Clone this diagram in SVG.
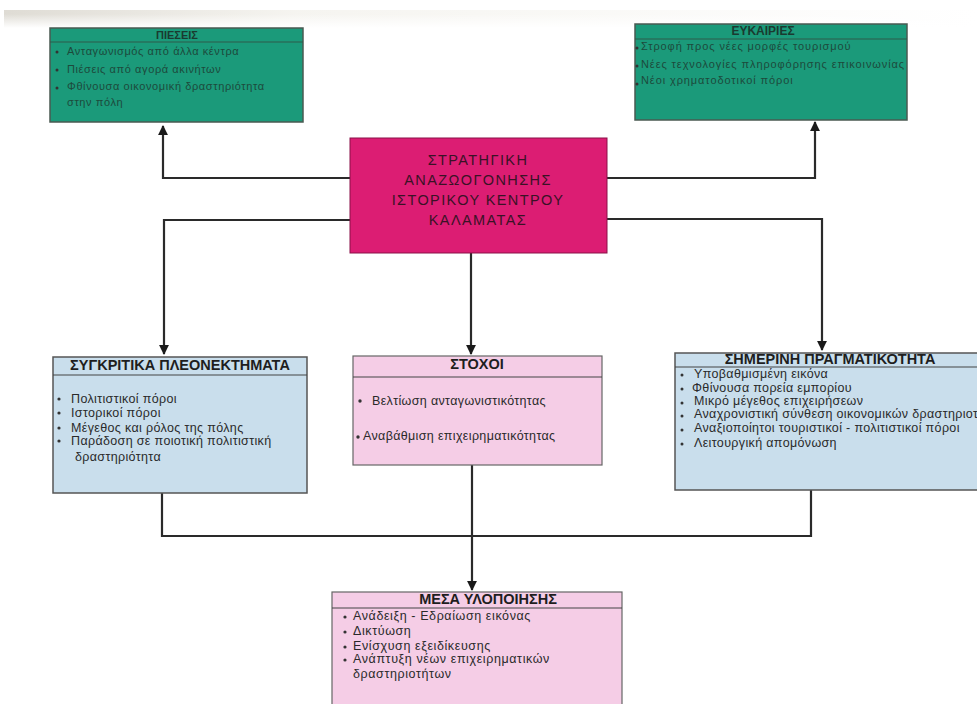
<svg xmlns="http://www.w3.org/2000/svg" width="977" height="704" viewBox="0 0 977 704">
<style>
  .it{font-family:"Liberation Sans","DejaVu Sans",sans-serif;font-size:12.5px;fill:#2a2a2a;letter-spacing:0.35px}
  .itg{font-family:"Liberation Sans","DejaVu Sans",sans-serif;font-size:11px;fill:#1d4a3c;letter-spacing:0.6px}
  .ti{font-family:"Liberation Sans","DejaVu Sans",sans-serif;font-size:14.5px;font-weight:bold;fill:#1e1e1e;text-anchor:middle}
  .tc{font-family:"Liberation Sans","DejaVu Sans",sans-serif;font-size:14.5px;fill:#3a1226;text-anchor:middle;letter-spacing:1.4px}
  .green{fill:#1b9a7a;stroke:#4a5a52;stroke-width:1.5}
  .blue{fill:#c9deec;stroke:#555;stroke-width:1.5}
  .pink{fill:#f5cde6;stroke:#666;stroke-width:1.2}
  .sep{stroke:#444;stroke-width:1.2}
  .sepg{stroke:#2f5a4a;stroke-width:1.2}
  .con{fill:none;stroke:#2a2a2a;stroke-width:2.2}
  .dot{fill:#333}
</style>
<defs>
  <marker id="ah" viewBox="0 0 10 10" refX="9" refY="5" markerWidth="4.5" markerHeight="5" orient="auto" markerUnits="strokeWidth">
    <path d="M0,0 L10,5 L0,10 z" fill="#1a1a1a"/>
  </marker>
  <linearGradient id="paper" x1="0" y1="0" x2="1" y2="0">
    <stop offset="0" stop-color="#c9c4b8"/>
    <stop offset="0.3" stop-color="#efede6"/>
    <stop offset="1" stop-color="#ffffff"/>
  </linearGradient>
  <linearGradient id="fade" x1="0" y1="0" x2="0" y2="1">
    <stop offset="0" stop-color="#fff" stop-opacity="0"/>
    <stop offset="1" stop-color="#fff" stop-opacity="1"/>
  </linearGradient>
</defs>
<rect width="977" height="704" fill="#ffffff"/>
<rect x="4" y="10" width="973" height="18" fill="url(#paper)" opacity="0.6"/>
<rect x="4" y="14" width="973" height="14" fill="url(#fade)"/>

<g id="connectors">
  <path class="con" d="M350,178 H163 V126" marker-end="url(#ah)"/>
  <path class="con" d="M350,220 H164 V354" marker-end="url(#ah)"/>
  <path class="con" d="M607,178 H815 V122" marker-end="url(#ah)"/>
  <path class="con" d="M607,219 H822 V350" marker-end="url(#ah)"/>
  <path class="con" d="M471,253 V354" marker-end="url(#ah)"/>
  <path class="con" d="M162,493 V536 H811 V490"/>
  <path class="con" d="M472,465 V590" marker-end="url(#ah)"/>
</g>

<g id="piesis">
  <rect class="green" x="50" y="28" width="253" height="94"/>
  <line class="sepg" x1="50" y1="42" x2="303" y2="42"/>
  <text class="ti" x="177" y="39" style="font-size:11px;fill:#1a3a30">ΠΙΕΣΕΙΣ</text>
  <circle class="dot" cx="57" cy="52" r="1.5"/>
  <text class="itg" x="67" y="55">Ανταγωνισμός από άλλα κέντρα</text>
  <circle class="dot" cx="57" cy="70" r="1.5"/>
  <text class="itg" x="67" y="73">Πιέσεις από αγορά ακινήτων</text>
  <circle class="dot" cx="57" cy="88" r="1.5"/>
  <text class="itg" x="67" y="90">Φθίνουσα οικονομική δραστηριότητα</text>
  <text class="itg" x="67" y="106">στην πόλη</text>
</g>

<g id="eukairies">
  <rect class="green" x="635" y="24" width="272" height="96"/>
  <line class="sepg" x1="635" y1="39" x2="907" y2="39"/>
  <text class="ti" x="763" y="35" style="font-size:12px;fill:#1a3a30">ΕΥΚΑΙΡΙΕΣ</text>
  <circle class="dot" cx="637" cy="48" r="1.5"/>
  <text class="itg" x="641" y="50" style="letter-spacing:0.9px">Στροφή προς νέες μορφές τουρισμού</text>
  <circle class="dot" cx="637" cy="66" r="1.5"/>
  <text class="itg" x="641" y="68" style="letter-spacing:0.9px">Νέες τεχνολογίες πληροφόρησης επικοινωνίας</text>
  <circle class="dot" cx="637" cy="84" r="1.5"/>
  <text class="itg" x="641" y="84" style="letter-spacing:0.9px">Νέοι χρηματοδοτικοί πόροι</text>
</g>

<g id="strategy">
  <rect x="350" y="138" width="257" height="115" fill="#dc1d73" stroke="#8a1048" stroke-width="1"/>
  <text class="tc" x="478" y="165">ΣΤΡΑΤΗΓΙΚΗ</text>
  <text class="tc" x="478" y="185">ΑΝΑΖΩΟΓΟΝΗΣΗΣ</text>
  <text class="tc" x="478" y="205">ΙΣΤΟΡΙΚΟΥ ΚΕΝΤΡΟΥ</text>
  <text class="tc" x="478" y="225">ΚΑΛΑΜΑΤΑΣ</text>
</g>

<g id="pleonektimata">
  <rect class="blue" x="53" y="357" width="254" height="136"/>
  <line class="sep" x1="53" y1="375" x2="307" y2="375"/>
  <text class="ti" x="180" y="370">ΣΥΓΚΡΙΤΙΚΑ ΠΛΕΟΝΕΚΤΗΜΑΤΑ</text>
  <circle class="dot" cx="59" cy="399" r="1.6"/>
  <text class="it" x="71" y="403">Πολιτιστικοί πόροι</text>
  <circle class="dot" cx="59" cy="413" r="1.6"/>
  <text class="it" x="71" y="417">Ιστορικοί πόροι</text>
  <circle class="dot" cx="59" cy="428" r="1.6"/>
  <text class="it" x="71" y="432">Μέγεθος και ρόλος της πόλης</text>
  <circle class="dot" cx="59" cy="441" r="1.6"/>
  <text class="it" x="71" y="445">Παράδοση σε ποιοτική πολιτιστική</text>
  <text class="it" x="75" y="461">δραστηριότητα</text>
</g>

<g id="stoxoi">
  <rect class="pink" x="353" y="356" width="249" height="109"/>
  <line class="sep" x1="353" y1="377" x2="602" y2="377"/>
  <text class="ti" x="477" y="369">ΣΤΟΧΟΙ</text>
  <circle class="dot" cx="360" cy="401" r="1.7"/>
  <text class="it" x="372" y="405">Βελτίωση ανταγωνιστικότητας</text>
  <circle class="dot" cx="358" cy="437" r="1.7"/>
  <text class="it" x="363" y="440">Αναβάθμιση επιχειρηματικότητας</text>
</g>

<g id="pragmatikotita">
  <rect class="blue" x="675" y="353" width="310" height="137"/>
  <line class="sep" x1="675" y1="367" x2="977" y2="367"/>
  <text class="ti" x="830" y="364">ΣΗΜΕΡΙΝΗ ΠΡΑΓΜΑΤΙΚΟΤΗΤΑ</text>
  <circle class="dot" cx="682" cy="375" r="1.5"/>
  <text class="it" x="694" y="378">Υποβαθμισμένη εικόνα</text>
  <circle class="dot" cx="682" cy="389" r="1.5"/>
  <text class="it" x="692" y="392">Φθίνουσα πορεία εμπορίου</text>
  <circle class="dot" cx="682" cy="403" r="1.5"/>
  <text class="it" x="694" y="405">Μικρό μέγεθος επιχειρήσεων</text>
  <circle class="dot" cx="682" cy="416" r="1.5"/>
  <text class="it" x="694" y="418">Αναχρονιστική σύνθεση οικονομικών δραστηριοτ</text>
  <circle class="dot" cx="682" cy="430" r="1.5"/>
  <text class="it" x="694" y="432">Αναξιοποίητοι τουριστικοί - πολιτιστικοί πόροι</text>
  <circle class="dot" cx="682" cy="444" r="1.5"/>
  <text class="it" x="694" y="447">Λειτουργική απομόνωση</text>
</g>

<g id="mesa">
  <rect class="pink" x="332" y="592" width="290" height="120"/>
  <line class="sep" x1="332" y1="608" x2="622" y2="608"/>
  <text class="ti" x="488" y="604">ΜΕΣΑ ΥΛΟΠΟΙΗΣΗΣ</text>
  <circle class="dot" cx="345" cy="617" r="1.6"/>
  <text class="it" x="353" y="620" style="letter-spacing:0.6px">Ανάδειξη - Εδραίωση εικόνας</text>
  <circle class="dot" cx="345" cy="632" r="1.6"/>
  <text class="it" x="353" y="635" style="letter-spacing:0.6px">Δικτύωση</text>
  <circle class="dot" cx="345" cy="647" r="1.6"/>
  <text class="it" x="353" y="650" style="letter-spacing:0.6px">Ενίσχυση εξειδίκευσης</text>
  <circle class="dot" cx="345" cy="660" r="1.6"/>
  <text class="it" x="353" y="663" style="letter-spacing:0.6px">Ανάπτυξη νέων επιχειρηματικών</text>
  <text class="it" x="353" y="678" style="letter-spacing:0.6px">δραστηριοτήτων</text>
</g>
</svg>
